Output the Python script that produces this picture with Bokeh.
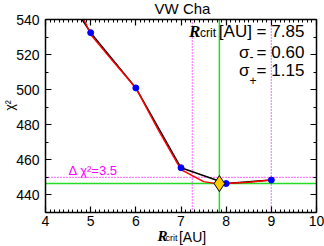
import numpy as np
from bokeh.plotting import figure
from bokeh.models import (LinearAxis, SingleIntervalTicker, Label,
                          CustomJSTickFormatter, Range1d)
from bokeh.embed import file_html
from bokeh.resources import INLINE

# ---- data ----
x_box = (4, 10)          # axis ranges of the plot box
y_box = (430, 540)

r_grid = [4, 5, 6, 7, 8, 9]
chi2_grid = [572.0, 532.5, 501.0, 455.5, 446.5, 448.5]

r_fit = [4.70, 4.85, 5.0, 5.5, 6.0, 6.5, 7.0, 7.25, 7.5, 7.75, 7.85, 8.0, 8.5, 9.0]
chi2_fit = [546.5, 540.0, 531.5, 516.0, 501.0, 477.0, 454.5, 451.0, 447.6, 446.6, 446.5, 446.5, 447.3, 448.5]

r_best = 7.85
sigma_minus = 0.60
sigma_plus = 1.15
chi2_min = 446.5
delta_chi2 = 3.5

x_ticks_interval = 1
y_ticks_interval = 20

# ---- layout (pixels) ----
W, H = 324, 246
box_left, box_right, box_top, box_bottom = 45, 316, 19, 212
sx = (box_right - box_left) / (x_box[1] - x_box[0])
sy = (box_bottom - box_top) / (y_box[1] - y_box[0])
x_lo = x_box[0] - box_left / sx
x_hi = x_box[1] + (W - box_right) / sx
y_hi = y_box[1] + box_top / sy
y_lo = y_box[0] - (H - box_bottom) / sy

def clip_top(xs, ys, top):
    xs = np.asarray(xs, float); ys = np.asarray(ys, float)
    ox, oy = [], []
    for i in range(len(xs)):
        if ys[i] <= top:
            if i > 0 and ys[i - 1] > top:
                t = (ys[i - 1] - top) / (ys[i - 1] - ys[i])
                ox.append(xs[i - 1] + t * (xs[i] - xs[i - 1])); oy.append(top)
            ox.append(xs[i]); oy.append(ys[i])
    return ox, oy

p = figure(width=W, height=H, x_range=Range1d(x_lo, x_hi), y_range=Range1d(y_lo, y_hi),
           output_backend="svg", toolbar_location=None,
           x_axis_type=None, y_axis_type=None, min_border=0)
p.title.visible = False
p.outline_line_color = None
p.background_fill_color = "white"
p.border_fill_color = "white"

xt = SingleIntervalTicker(interval=x_ticks_interval, num_minor_ticks=10)
yt = SingleIntervalTicker(interval=y_ticks_interval, num_minor_ticks=2)
blank = CustomJSTickFormatter(code="return ''")

def style(ax, show):
    ax.major_tick_in = 6
    ax.major_tick_out = 0
    ax.minor_tick_in = 3
    ax.minor_tick_out = 0
    ax.axis_line_width = 1.5
    ax.major_tick_line_width = 1.2
    ax.minor_tick_line_width = 1
    ax.axis_line_color = "black"
    ax.major_tick_line_color = "black"
    ax.minor_tick_line_color = "black"
    if show:
        ax.major_label_text_font = "Liberation Sans"
        ax.major_label_text_font_size = "14px"
        ax.major_label_text_color = "black"
    else:
        ax.formatter = blank
        ax.major_label_text_font_size = "0px"
        ax.major_label_standoff = 0

bx = LinearAxis(ticker=xt, fixed_location=y_box[0], bounds=x_box); style(bx, True); bx.major_label_standoff = 3
lx = LinearAxis(ticker=yt, fixed_location=x_box[0], bounds=y_box); style(lx, True); lx.major_label_standoff = 6
tx = LinearAxis(ticker=xt, fixed_location=y_box[1], bounds=x_box); style(tx, False)
rx = LinearAxis(ticker=yt, fixed_location=x_box[1], bounds=y_box); style(rx, False)
p.add_layout(bx, "below")
p.add_layout(lx, "left")
p.add_layout(tx, "above")
p.add_layout(rx, "right")

green = "#22DD22"
magenta = "#FF00FF"
# reference lines inside the plot box
vx = [r_best - sigma_minus, r_best + sigma_plus]
p.segment(x0=vx, y0=[y_box[0]] * 2, x1=vx, y1=[y_box[1]] * 2,
          line_color=magenta, line_dash="1 2", line_width=1.2)
p.segment(x0=[x_box[0]], y0=[chi2_min + delta_chi2], x1=[x_box[1]], y1=[chi2_min + delta_chi2],
          line_color=magenta, line_dash="1 2", line_width=1.2)
p.segment(x0=[r_best], y0=[y_box[0]], x1=[r_best], y1=[y_box[1]], line_color=green, line_width=1.5)
p.segment(x0=[x_box[0]], y0=[chi2_min], x1=[x_box[1]], y1=[chi2_min], line_color=green, line_width=1.5)

bx_, by_ = clip_top(r_grid, chi2_grid, y_box[1])
p.line(bx_, by_, line_color="black", line_width=1.5)
rx_, ry_ = clip_top(r_fit, chi2_fit, y_box[1])
p.line(rx_, ry_, line_color="red", line_width=1.5)
inside = [(a, b) for a, b in zip(r_grid, chi2_grid) if b <= y_box[1]]
p.scatter([a for a, b in inside], [b for a, b in inside], size=6, color="blue")
p.scatter([r_best], [chi2_min], marker="diamond", size=16, fill_color="#FFCC00",
          line_color="black", line_width=1)

def lab(x, y, text, fs, font="Liberation Sans", style="normal", align="left",
        xoff=0, color="black", baseline="alphabetic", angle=0, lift=True):
    # lift: raise text so its baseline sits at y (compensates ~0.35 em drop)
    yy = y + (0.35 * fs / sy if lift else 0)
    p.add_layout(Label(x=x, y=yy, text=text, text_font=font, text_font_size="%dpx" % fs,
                       text_font_style=style, text_align=align, x_offset=xoff,
                       text_color=color, text_baseline=baseline, angle=angle))

# title
lab(7.033, 543.1, "VW Cha", 15, align="center")
# y label
lab(3.222, 491.0, "χ²", 12, align="center", baseline="middle", angle=1.5708, lift=False)
# x label
xl_y = 413.5
lab(6.482, xl_y, "R", 15, font="Liberation Serif", style="bold italic")
lab(6.482, xl_y, "crit", 9, xoff=8)
lab(6.482, xl_y, "[AU]", 14, xoff=21.3)

# annotation block
ax0 = 7.178
lab(ax0, 529.7, "R", 17, font="Liberation Serif", style="bold italic")
lab(ax0, 529.7, "crit", 12, xoff=11)
lab(ax0, 529.7, "[AU] = %.2f" % r_best, 17, xoff=115.3, align="right")
lab(ax0, 517.8, "σ", 17, xoff=50)
lab(ax0, 516.6, "-", 12, xoff=60.5)
lab(ax0, 517.8, "= %.2f" % sigma_minus, 17, xoff=115.3, align="right")
lab(ax0, 507.5, "σ", 17, xoff=50)
lab(ax0, 503.0, "+", 12, xoff=60.5)
lab(ax0, 507.5, "= %.2f" % sigma_plus, 17, xoff=115.3, align="right")

# delta chi2 label
lab(4.511, 451.1, "Δ χ²=%.1f" % delta_chi2, 13, color=magenta)

open("out.html", "w").write(file_html(p, INLINE))
